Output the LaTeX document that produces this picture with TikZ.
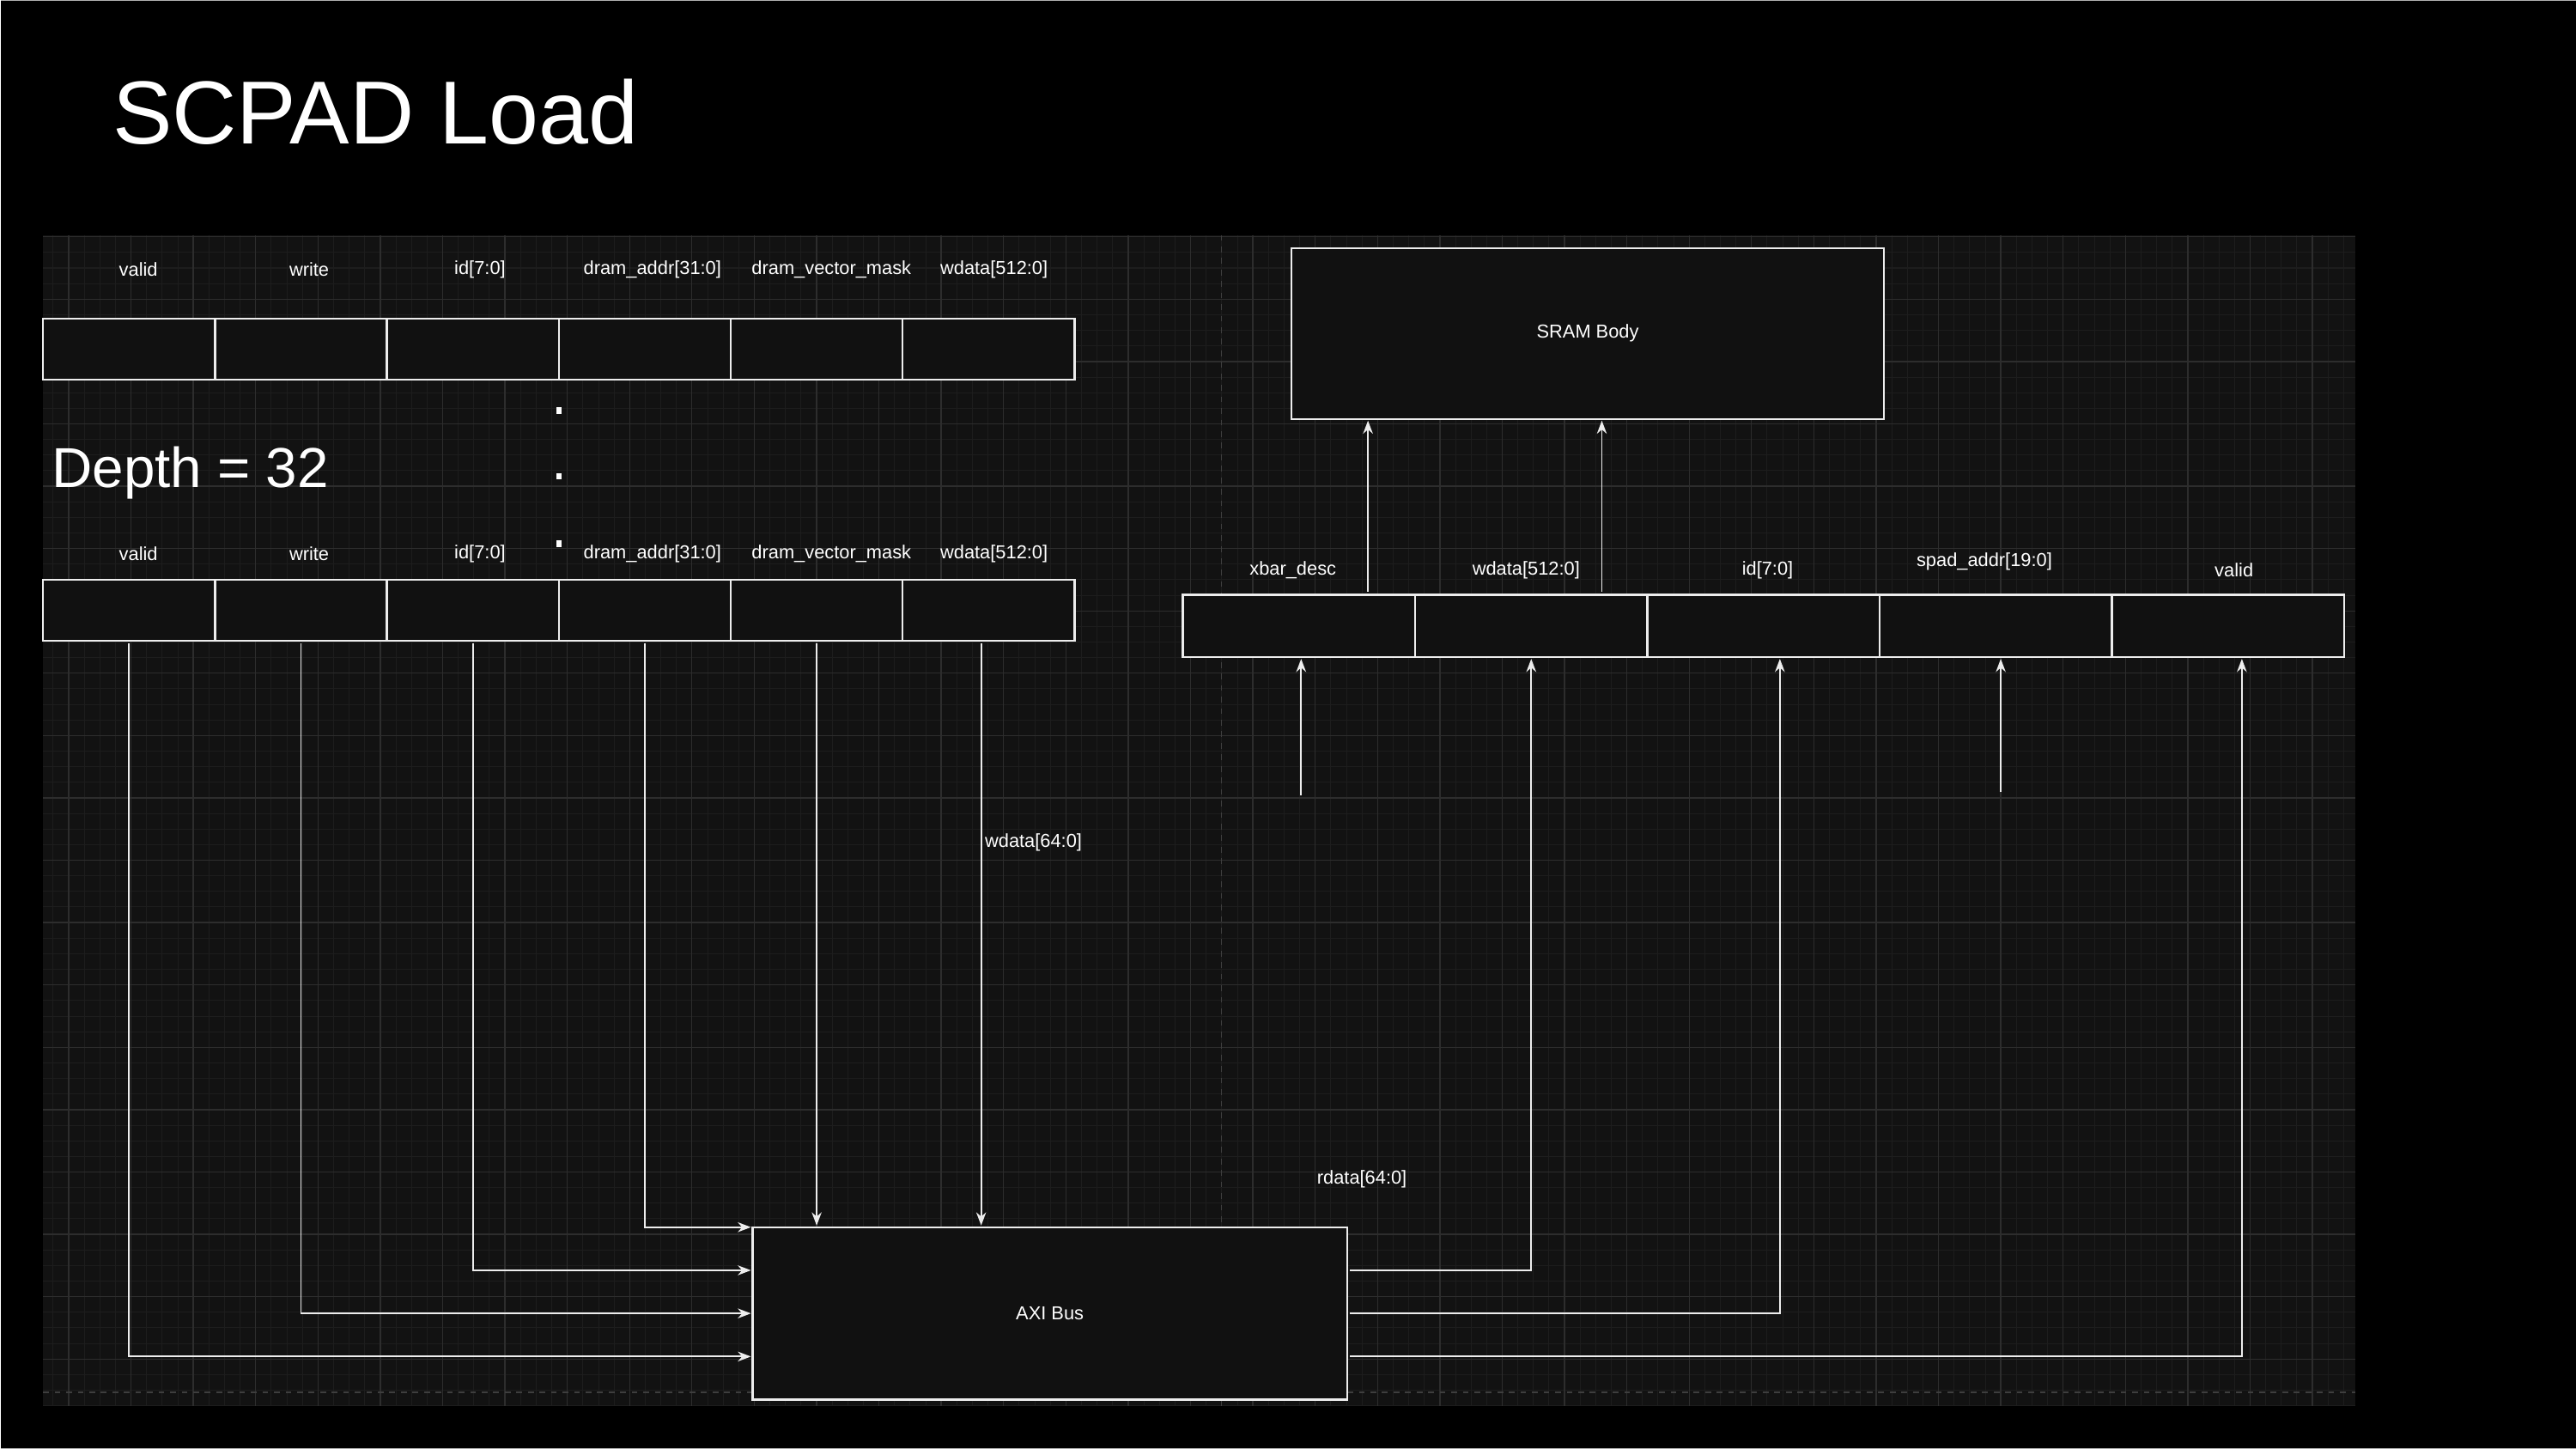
\documentclass[tikz,border=0pt]{standalone}
\usepackage{fontspec}
\setmainfont{Liberation Sans}
\usetikzlibrary{positioning,calc,arrows.meta}
\definecolor{canvas}{HTML}{121212}
\definecolor{boxfill}{HTML}{111111}
\definecolor{gridmajor}{HTML}{2D2D2D}
\definecolor{gridminor}{HTML}{1D1D1D}
\definecolor{wirewhite}{HTML}{EDEDED}
\definecolor{pageline}{HTML}{3E3E3E}

\begin{document}
\begin{tikzpicture}[
  x=0.02cm, y=-0.02cm,
  font=\fontsize{6.5}{8}\selectfont, text=white,
  cell/.style={rectangle, draw=wirewhite, line width=0.7pt, fill=boxfill,
    minimum width=2.093cm, minimum height=0.74cm, inner sep=0pt, outer sep=0pt},
  desccell/.style={cell, minimum width=2.828cm, minimum height=0.76cm},
  block/.style={cell, minimum width=7.22cm, minimum height=2.08cm},
  field/.style={inner sep=1pt},
  wire/.style={draw=wirewhite, line width=0.55pt, shorten <=1pt, shorten >=0.6pt,
    -{Stealth[length=1.6mm,width=1.2mm]}},
]

% slide and canvas
\fill[black] (0,0) rectangle (1568,882);
\draw[gray!60, line width=0.3pt] (0,0.4) -- (1568,0.4);
\draw[gray!60, line width=0.3pt] (0,881.6) -- (1568,881.6);
\fill[canvas] (26,143) rectangle (1434,856);
\foreach \i [evaluate=\i as \gx using 32.1+9.4875*\i] in {0,...,147}
  \draw[gridminor, line width=0.3pt] (\gx,143) -- (\gx,856);
\foreach \i [evaluate=\i as \gy using 144.15+9.4875*\i] in {0,...,75}
  \draw[gridminor, line width=0.3pt] (26,\gy) -- (1434,\gy);
\foreach \i [evaluate=\i as \gx using 41.55+37.95*\i] in {0,...,36}
  \draw[gridmajor, line width=0.4pt] (\gx,143) -- (\gx,856);
\foreach \i [evaluate=\i as \gy using 144.15+37.95*\i] in {0,...,18}
  \draw[gridmajor, line width=0.4pt] (26,\gy) -- (1434,\gy);
\draw[pageline, line width=0.4pt, dash pattern=on 2pt off 2pt] (743.5,143) -- (743.5,856);
\draw[pageline, line width=0.4pt, dash pattern=on 2pt off 2pt] (26,847.5) -- (1434,847.5);

\node[anchor=west, inner sep=0pt, font=\fontsize{31}{36}\selectfont] (title) at (68,68) {SCPAD Load};
\node[anchor=west, inner sep=0pt, font=\fontsize{19.5}{24}\selectfont] (depth) at (31,288) {Depth = 32};

% queue entries
\node[cell] (top1) at (78.33,212.5) {};
\node[cell] (top2) at (183,212.5) {};
\node[cell] (top3) at (287.67,212.5) {};
\node[cell] (top4) at (392.33,212.5) {};
\node[cell] (top5) at (497,212.5) {};
\node[cell] (top6) at (601.67,212.5) {};

\node[field] at (84,164)  {valid};
\node[field] at (188,164) {write};
\node[field] at (292,164) {id[7:0]};
\node[field] at (397,164) {dram\_addr[31:0]};
\node[field] at (506,164) {dram\_vector\_mask};
\node[field] at (605,164) {wdata[512:0]};

\fill[white] (338.5,248) rectangle (341.5,252);
\fill[white] (338.5,288) rectangle (341.5,292);
\fill[white] (338.5,329) rectangle (341.5,333);

\node[cell] (fifo1) at (78.33,371.5) {};
\node[cell] (fifo2) at (183,371.5) {};
\node[cell] (fifo3) at (287.67,371.5) {};
\node[cell] (fifo4) at (392.33,371.5) {};
\node[cell] (fifo5) at (497,371.5) {};
\node[cell] (fifo6) at (601.67,371.5) {};

\node[field] at (84,337)  {valid};
\node[field] at (188,337) {write};
\node[field] at (292,337) {id[7:0]};
\node[field] at (397,337) {dram\_addr[31:0]};
\node[field] at (506,337) {dram\_vector\_mask};
\node[field] at (605,337) {wdata[512:0]};

% scratchpad side
\node[block] (sram) at (966.5,203) {SRAM Body};

\node[desccell] (desc1) at (790.7,381) {};
\node[desccell] (desc2) at (932.1,381) {};
\node[desccell] (desc3) at (1073.5,381) {};
\node[desccell] (desc4) at (1214.9,381) {};
\node[desccell] (desc5) at (1356.3,381) {};

\node[field] at (787,347)  {xbar\_desc};
\node[field] at (929,347)  {wdata[512:0]};
\node[field] at (1076,347) {id[7:0]};
\node[field] at (1208,342) {spad\_addr[19:0]};
\node[field] at (1360,347) {valid};

\node[block, minimum width=7.24cm, minimum height=2.1cm] (axi) at (639,799.5) {AXI Bus};

\coordinate (axiin2) at ($(axi.north west)!0.25!(axi.south west)$);
\coordinate (axiin3) at ($(axi.north west)!0.5!(axi.south west)$);
\coordinate (axiin4) at ($(axi.north west)!0.75!(axi.south west)$);
\coordinate (axiout1) at ($(axi.north east)!0.25!(axi.south east)$);
\coordinate (axiout2) at ($(axi.north east)!0.5!(axi.south east)$);
\coordinate (axiout3) at ($(axi.north east)!0.75!(axi.south east)$);
\coordinate (wd64) at ([xshift=-0.09cm]fifo6.south);
\coordinate (xbarsrc) at (792,486);
\coordinate (spadsrc) at (1218,484);
\coordinate (descout) at ([xshift=0.84cm]desc1.north);
\coordinate (wdout) at ([xshift=0.86cm]desc2.north);

\draw[wire] (fifo1.south) |- (axiin4);
\draw[wire] (fifo2.south) |- (axiin3);
\draw[wire] (fifo3.south) |- (axiin2);
\draw[wire] (fifo4.south) |- (axi.north west);
\draw[wire] (fifo5.south) -- (fifo5.south |- axi.north);
\draw[wire] (wd64) -- (wd64 |- axi.north);
\node[field] at (629,513) {wdata[64:0]};

\draw[wire] (axiout1) -| (desc2.south);
\draw[wire] (axiout2) -| ([xshift=0.2cm]desc3.south);
\draw[wire] (axiout3) -| ([xshift=0.17cm]desc5.south);
\node[field] at (829,718) {rdata[64:0]};

\draw[wire] (xbarsrc) -- (xbarsrc |- desc1.south);
\draw[wire] (spadsrc) -- (spadsrc |- desc4.south);
\draw[wire] (descout) -- (descout |- sram.south);
\draw[wire] (wdout) -- (wdout |- sram.south);
\end{tikzpicture}
\end{document}
